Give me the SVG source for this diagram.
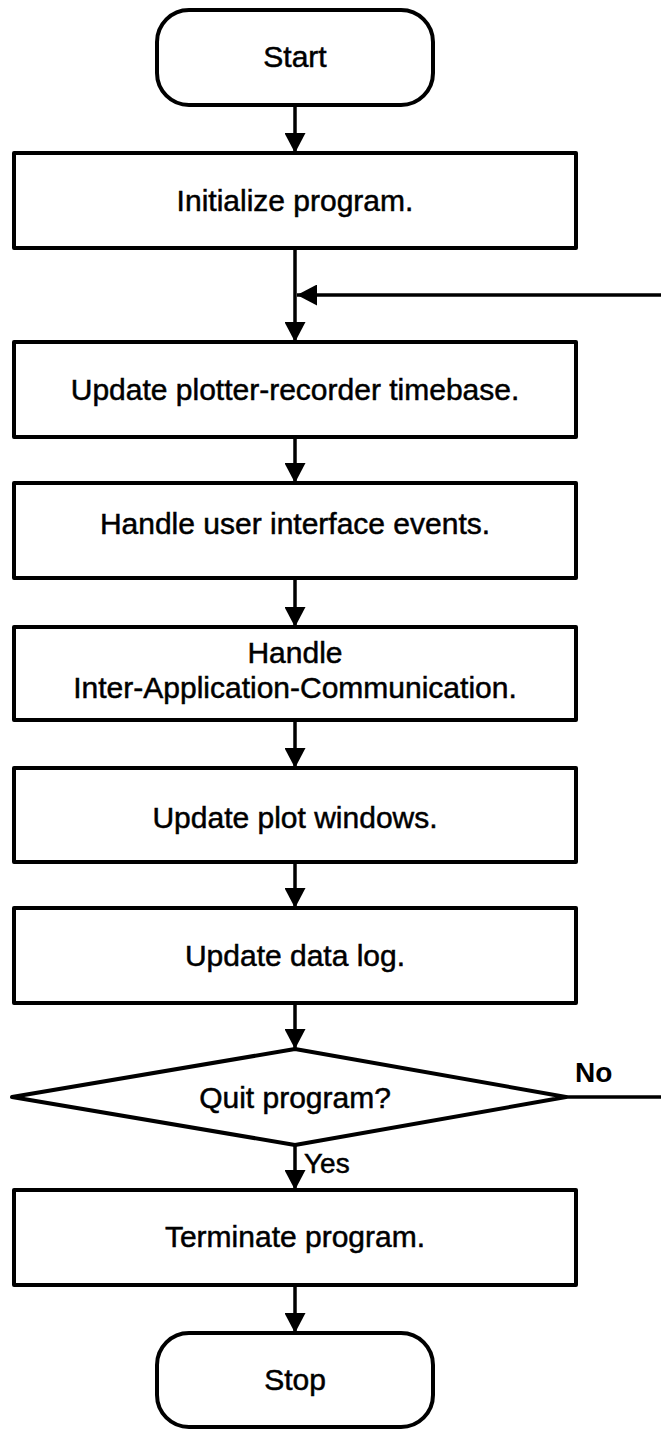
<svg xmlns="http://www.w3.org/2000/svg" width="661" height="1431" viewBox="0 0 661 1431">
  <style>
    .shape { fill: #ffffff; stroke: #000000; stroke-width: 4; stroke-linejoin: round; }
    .label { font-family: "Liberation Sans", Arial, Helvetica, sans-serif; font-size: 30px; fill: #000000; stroke: #000000; stroke-width: 0.5; text-anchor: middle; }
    .tag { font-family: "Liberation Sans", Arial, Helvetica, sans-serif; font-size: 28px; fill: #000000; stroke: #000000; stroke-width: 0.5; }
    .bold { font-weight: bold; stroke-width: 0; }
    .edge { fill: none; stroke: #000000; stroke-width: 3.5; }
  </style>
  <defs>
    <marker id="arrow" viewBox="0 0 20 21" refX="20" refY="10.5" markerWidth="20" markerHeight="21" markerUnits="userSpaceOnUse" orient="auto">
      <path d="M0,0 L20,10.5 L0,21 Z" fill="#000000"/>
    </marker>
  </defs>
  <rect width="661" height="1431" fill="#ffffff"/>

  <!-- connectors -->
  <g id="connectors">
    <line class="edge" x1="295" y1="105" x2="295" y2="153" marker-end="url(#arrow)"/>
    <line class="edge" x1="295" y1="248" x2="295" y2="342" marker-end="url(#arrow)"/>
    <line class="edge" x1="661" y1="295" x2="297" y2="295" marker-end="url(#arrow)"/>
    <line class="edge" x1="295" y1="437" x2="295" y2="483" marker-end="url(#arrow)"/>
    <line class="edge" x1="295" y1="578" x2="295" y2="627" marker-end="url(#arrow)"/>
    <line class="edge" x1="295" y1="720" x2="295" y2="768" marker-end="url(#arrow)"/>
    <line class="edge" x1="295" y1="862" x2="295" y2="908" marker-end="url(#arrow)"/>
    <line class="edge" x1="295" y1="1003" x2="295" y2="1049" marker-end="url(#arrow)"/>
    <line class="edge" x1="295" y1="1145" x2="295" y2="1190" marker-end="url(#arrow)"/>
    <line class="edge" x1="295" y1="1285" x2="295" y2="1333" marker-end="url(#arrow)"/>
    <line class="edge" x1="566" y1="1097" x2="661" y2="1097"/>
    <text class="tag" x="304" y="1173">Yes</text>
    <text class="tag bold" x="575" y="1082">No</text>
  </g>

  <g id="start">
    <rect class="shape" x="157" y="10" width="276" height="95" rx="32" ry="32"/>
    <text class="label" x="295" y="67">Start</text>
  </g>

  <g id="init">
    <rect class="shape" x="14" y="153" width="562" height="95"/>
    <text class="label" x="295" y="211">Initialize program.</text>
  </g>

  <g id="timebase">
    <rect class="shape" x="14" y="342" width="562" height="95"/>
    <text class="label" x="295" y="400">Update plotter-recorder timebase.</text>
  </g>

  <g id="ui-events">
    <rect class="shape" x="14" y="483" width="562" height="95"/>
    <text class="label" x="295" y="534">Handle user interface events.</text>
  </g>

  <g id="iac">
    <rect class="shape" x="14" y="627" width="562" height="93"/>
    <text class="label" x="295" y="663">Handle</text>
    <text class="label" x="295" y="698">Inter-Application-Communication.</text>
  </g>

  <g id="plot-windows">
    <rect class="shape" x="14" y="768" width="562" height="94"/>
    <text class="label" x="295" y="828">Update plot windows.</text>
  </g>

  <g id="data-log">
    <rect class="shape" x="14" y="908" width="562" height="95"/>
    <text class="label" x="295" y="966">Update data log.</text>
  </g>

  <g id="quit">
    <polygon class="shape" points="295,1049 566,1097 295,1145 12,1097"/>
    <text class="label" x="295" y="1108">Quit program?</text>
  </g>

  <g id="terminate">
    <rect class="shape" x="14" y="1190" width="562" height="95"/>
    <text class="label" x="295" y="1247">Terminate program.</text>
  </g>

  <g id="stop">
    <rect class="shape" x="157" y="1333" width="276" height="94" rx="32" ry="32"/>
    <text class="label" x="295" y="1390">Stop</text>
  </g>
</svg>
